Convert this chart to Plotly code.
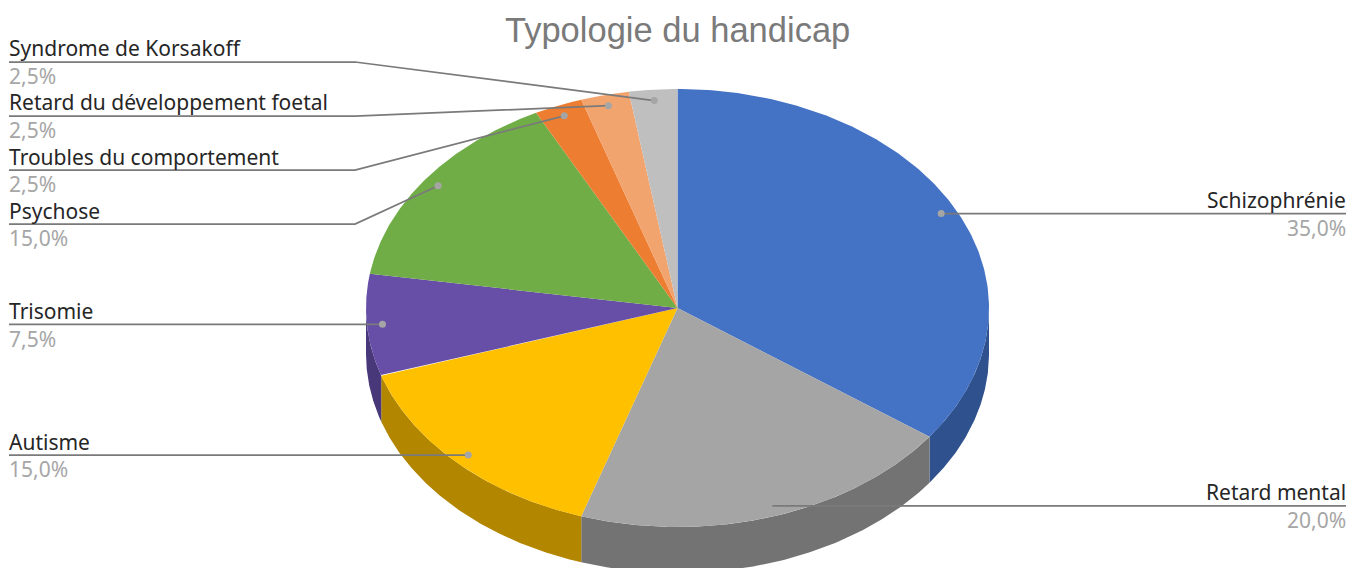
import numpy as np
import plotly.graph_objects as go

# Data
categories = ["Schizophrénie", "Retard mental", "Autisme", "Trisomie", "Psychose",
              "Troubles du comportement", "Retard du développement foetal", "Syndrome de Korsakoff"]
values = [35.0, 20.0, 15.0, 7.5, 15.0, 2.5, 2.5, 2.5]
percent_labels = ["35,0%", "20,0%", "15,0%", "7,5%", "15,0%", "2,5%", "2,5%", "2,5%"]

# Styles
top_colors = ["#4472C4", "#A5A5A5", "#FFC000", "#674EA7", "#70AD47", "#ED7D31", "#F2A46F", "#BFBFBF"]
side_colors = ["#2F528F", "#737373", "#B38600", "#483879", "#4E7931", "#A5571F", "#AA734D", "#858585"]

# Layout (pixel space of the page)
W, H = 1362, 568
CX, CY, RX, RY, DEPTH = 677.5, 308.0, 311.5, 219.0, 46.0
LABEL_LINE_Y = [213, 505, 455, 324, 224, 170, 116, 62]
LABEL_SIDE = ["right", "right", "left", "left", "left", "left", "left", "left"]
LEFT_X, RIGHT_X, ELBOW_X = 9, 1346, 355
ELBOWED = [False, False, False, False, True, True, True, True]
DOT_R = 0.95


def pt(deg, r=1.0):
    a = np.radians(deg)
    return CX + RX * r * np.sin(a), CY - RY * r * np.cos(a)


fig = go.Figure()
total = sum(values)
edges = np.concatenate([[0], np.cumsum(values)]) / total * 360

# Side walls (only the front half of the rim shows)
for i, c in enumerate(side_colors):
    a0, a1 = max(edges[i], 90), min(edges[i + 1], 270)
    if a1 <= a0:
        continue
    t = np.linspace(a0, a1, 120)
    x, y = pt(t)
    fig.add_trace(go.Scatter(
        x=np.concatenate([x, x[::-1]]), y=np.concatenate([y, y[::-1] + DEPTH]),
        fill="toself", fillcolor=c, mode="lines", line=dict(width=0), hoverinfo="skip", showlegend=False))

# Top slices
for i, c in enumerate(top_colors):
    t = np.linspace(edges[i], edges[i + 1], 160)
    x, y = pt(t)
    fig.add_trace(go.Scatter(
        x=np.concatenate([[CX], x, [CX]]), y=np.concatenate([[CY], y, [CY]]),
        fill="toself", fillcolor=c, mode="lines", line=dict(width=0),
        name=categories[i], hoverinfo="name", showlegend=False))

# Leader lines, dots and labels
ann = []
for i, name in enumerate(categories):
    mid = (edges[i] + edges[i + 1]) / 2
    dx, dy = pt(mid, DOT_R)
    if LABEL_SIDE[i] == "right":
        xs, ys = [dx, RIGHT_X], [dy, dy]
        tx, anchor, ly = RIGHT_X + 2, "right", dy
    elif ELBOWED[i]:
        ly = LABEL_LINE_Y[i]
        xs, ys = [LEFT_X, ELBOW_X, dx], [ly, ly, dy]
        tx, anchor = LEFT_X - 2, "left"
    else:
        xs, ys = [LEFT_X, dx], [dy, dy]
        tx, anchor, ly = LEFT_X - 2, "left", dy
    fig.add_trace(go.Scatter(x=xs, y=ys, mode="lines", line=dict(color="#7A7A7A", width=1.75),
                             hoverinfo="skip", showlegend=False))
    fig.add_trace(go.Scatter(x=[dx], y=[dy], mode="markers", marker=dict(color="#A5A5A5", size=7),
                             hoverinfo="skip", showlegend=False))
    ann.append(dict(x=tx, y=ly + 2.5, text=name, xanchor=anchor, yanchor="bottom", showarrow=False,
                    font=dict(family="Noto Sans", size=21, color="#262626")))
    ann.append(dict(x=tx, y=ly - 1.7, text=percent_labels[i], xanchor=anchor, yanchor="top", showarrow=False,
                    font=dict(family="Noto Sans", size=21, color="#A6A6A6")))

fig.update_layout(
    width=W, height=H, margin=dict(l=0, r=0, t=0, b=0),
    paper_bgcolor="white", plot_bgcolor="white", showlegend=False,
    xaxis=dict(range=[0, W], visible=False, fixedrange=True),
    yaxis=dict(range=[H, 0], visible=False, fixedrange=True),
    annotations=ann + [dict(x=677.5, y=30, text="Typologie du handicap", showarrow=False, xanchor="center",
                            yanchor="middle", font=dict(family="Liberation Sans", size=34.5, color="#7A7A7A"))],
)

fig.write_html("out.html", config={"displayModeBar": False},
               post_script="document.body.style.margin='0';document.body.style.overflow='hidden';")
